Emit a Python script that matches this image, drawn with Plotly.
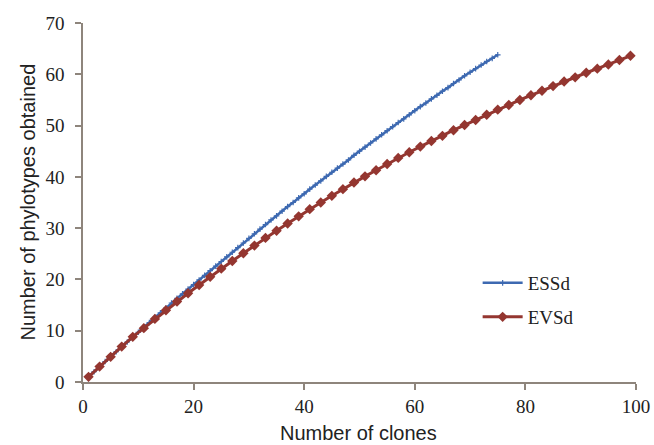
import plotly.graph_objects as go

# ESSd: clones 1..75
essd_x = list(range(1, 76))
essd_y = [1.0, 2.0, 3.0, 4.0, 4.9, 5.9, 6.9, 7.8, 8.8, 9.7,
          10.7, 11.6, 12.6, 13.5, 14.4, 15.4, 16.3, 17.2, 18.1, 19.0,
          19.9, 20.8, 21.7, 22.6, 23.5, 24.4, 25.3, 26.2, 27.1, 28.0,
          28.9, 29.8, 30.7, 31.6, 32.4, 33.3, 34.2, 35.0, 35.9, 36.7,
          37.6, 38.4, 39.2, 40.1, 40.9, 41.7, 42.5, 43.3, 44.2, 45.0,
          45.8, 46.6, 47.4, 48.2, 49.0, 49.8, 50.6, 51.3, 52.1, 52.9,
          53.7, 54.4, 55.2, 55.9, 56.7, 57.4, 58.2, 58.9, 59.7, 60.4,
          61.1, 61.8, 62.5, 63.1, 63.8]

# EVSd: clones 1,3,...,99
evsd_x = list(range(1, 100, 2))
evsd_y = [1.0, 3.0, 4.9, 6.9, 8.8, 10.5, 12.3, 14.0, 15.7, 17.3,
          18.9, 20.5, 22.1, 23.6, 25.1, 26.6, 28.1, 29.5, 30.9, 32.3,
          33.7, 35.0, 36.3, 37.6, 38.9, 40.1, 41.3, 42.5, 43.7, 44.8,
          45.9, 47.0, 48.0, 49.1, 50.1, 51.1, 52.1, 53.1, 54.0, 55.0,
          55.9, 56.8, 57.7, 58.6, 59.4, 60.3, 61.1, 61.9, 62.8, 63.6]

x_ticks = [0, 20, 40, 60, 80, 100]
y_ticks = [0, 10, 20, 30, 40, 50, 60, 70]

BLUE = "#3d69b1"
RED = "#943630"
AXIS = "#8e857c"
SERIF = "Liberation Serif, Times New Roman, serif"
SANS = "Liberation Sans, Arial, sans-serif"

# plot area in pixels
L, R, T, B = 83, 636.5, 23, 382
PW, PH = R - L, B - T

fig = go.Figure()
fig.add_trace(go.Scatter(
    x=essd_x, y=essd_y, name="ESSd", mode="lines+markers",
    line=dict(color=BLUE, width=2.5),
    marker=dict(symbol="cross-thin", size=4, color=BLUE, line=dict(color=BLUE, width=1.2)),
    legend="legend", showlegend=True,
))
fig.add_trace(go.Scatter(
    x=evsd_x, y=evsd_y, name="EVSd", mode="lines+markers",
    line=dict(color=RED, width=3),
    marker=dict(symbol="diamond", size=8, color=RED),
    legend="legend2", showlegend=True,
))

axis_common = dict(
    showline=True, linecolor=AXIS, linewidth=1.5,
    ticks="outside", ticklen=6, tickwidth=1.5, tickcolor=AXIS,
    showgrid=False, zeroline=False,
    tickfont=dict(family=SERIF, size=19, color="#222222"),
)

legend_common = dict(
    xanchor="left", yanchor="middle",
    font=dict(family=SERIF, size=19, color="#222222"),
    bgcolor="rgba(0,0,0,0)", itemwidth=40, visible=True,
)

fig.update_layout(
    width=654, height=445,
    showlegend=True,
    margin=dict(l=L, r=654 - R, t=T, b=445 - B, autoexpand=False),
    paper_bgcolor="white", plot_bgcolor="white",
    xaxis=dict(range=[0, 100], tickvals=x_ticks, **axis_common),
    yaxis=dict(range=[0, 70], tickvals=y_ticks, ticklabelstandoff=7, **axis_common),
    legend=dict(x=(478 - L) / PW, y=(B - 283) / PH, **legend_common),
    legend2=dict(x=(478 - L) / PW, y=(B - 317) / PH, **legend_common),
    annotations=[
        dict(text="Number of clones", x=(359 - L) / PW, y=(B - 433) / PH,
             xref="paper", yref="paper", xanchor="center", yanchor="middle",
             showarrow=False, font=dict(family=SANS, size=20, color="#222222")),
        dict(text="Number of phylotypes obtained", x=(27 - L) / PW, y=0.5,
             xref="paper", yref="paper", xanchor="center", yanchor="middle",
             showarrow=False, textangle=-90,
             font=dict(family=SANS, size=20, color="#222222")),
    ],
)

fig.write_html("out.html", config={"displayModeBar": False},
               post_script="document.body.style.margin='0';")
